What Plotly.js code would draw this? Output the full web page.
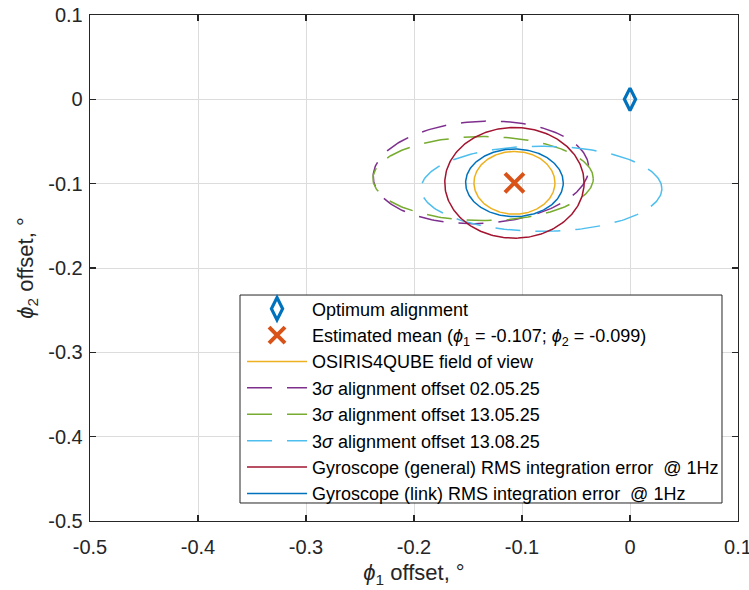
<!DOCTYPE html>
<html>
<head>
<meta charset="utf-8">
<script src="https://cdn.plot.ly/plotly-3.0.1.min.js"></script>
<style>html,body{margin:0;padding:0;background:#fff;}#chart{width:749px;height:590px;}</style>
</head>
<body>
<div id="chart"></div>
<script>
// ---- data ----
const optimumX = [0];
const optimumY = [0];
const meanX = [-0.107];
const meanY = [-0.099];

// ellipses: name, centre x, centre y, semi-axis x, semi-axis y, tilt (rad)
const ellipseNames = [
  'OSIRIS4QUBE field of view',
  '3<i>σ</i> alignment offset 02.05.25',
  '3<i>σ</i> alignment offset 13.05.25',
  '3<i>σ</i> alignment offset 13.08.25',
  'Gyroscope (general) RMS integration error&nbsp; @ 1Hz',
  'Gyroscope (link) RMS integration error&nbsp; @ 1Hz'
];
const ellipseCx = [-0.107, -0.138, -0.136, -0.082, -0.107, -0.107];
const ellipseCy = [-0.099, -0.0866, -0.094, -0.106, -0.099, -0.099];
const ellipseRx = [0.0375, 0.100, 0.102, 0.1115, 0.0645, 0.0452];
const ellipseRy = [0.0372, 0.0605, 0.0498, 0.0505, 0.0656, 0.0401];
const ellipseTilt = [0, 0.08, 0, 0, 0, 0];

const xTickVals = [-0.5, -0.4, -0.3, -0.2, -0.1, 0, 0.1];
const xTickText = ['-0.5', '-0.4', '-0.3', '-0.2', '-0.1', '0', '0.1'];
const yTickVals = [-0.5, -0.4, -0.3, -0.2, -0.1, 0, 0.1];
const yTickText = ['-0.5', '-0.4', '-0.3', '-0.2', '-0.1', '0', '0.1'];

// ---- styles ----
const ellipseColors = ['#EDB120', '#7E2F8E', '#77AC30', '#4DBEEE', '#A2142F', '#0072BD'];
const ellipseDash = ['solid', '25px,15px', '25px,15px', '25px,15px', 'solid', 'solid'];
const legendRanks = [3, 4, 5, 6, 7, 8];
const FONT = 'Liberation Sans, Arial, Helvetica, sans-serif';

function ellipsePoints(cx, cy, rx, ry, th) {
  const xs = [], ys = [];
  const n = 240;
  for (let i = 0; i <= n; i++) {
    const t = 2 * Math.PI * i / n;
    const ex = rx * Math.cos(t), ey = ry * Math.sin(t);
    xs.push(cx + ex * Math.cos(th) - ey * Math.sin(th));
    ys.push(cy + ex * Math.sin(th) + ey * Math.cos(th));
  }
  return {xs, ys};
}

const traces = [];
for (let k = 0; k < ellipseNames.length; k++) {
  const p = ellipsePoints(ellipseCx[k], ellipseCy[k], ellipseRx[k], ellipseRy[k], ellipseTilt[k]);
  traces.push({
    type: 'scatter', mode: 'lines', x: p.xs, y: p.ys, name: ellipseNames[k],
    line: {color: ellipseColors[k], width: 1.5, dash: ellipseDash[k]},
    legendrank: legendRanks[k], hoverinfo: 'skip'
  });
}
traces.push({
  type: 'scatter', mode: 'markers', x: optimumX, y: optimumY, name: 'Optimum alignment',
  marker: {symbol: 'diamond-tall-open', size: 16, color: '#0072BD', line: {width: 3.2, color: '#0072BD'}},
  legendrank: 1
});
traces.push({
  type: 'scatter', mode: 'markers', x: meanX, y: meanY,
  name: 'Estimated mean (<i>ϕ</i><sub>1</sub> = -0.107; <i>ϕ</i><sub>2</sub> = -0.099)',
  marker: {symbol: 'x-thin-open', size: 19, color: '#D95319', line: {width: 4, color: '#D95319'}},
  legendrank: 2
});

const axisCommon = {
  showgrid: true, gridcolor: '#dcdcdc', gridwidth: 1,
  zeroline: false, showline: true, linecolor: '#262626', linewidth: 1.3,
  mirror: 'ticks', ticks: 'inside', ticklen: 6, tickcolor: '#262626', tickwidth: 1.3,
  tickfont: {family: FONT, size: 20, color: '#262626'},
  tickmode: 'array', ticklabeloverflow: 'allow'
};

const layout = {
  width: 749, height: 590,
  margin: {l: 90, r: 11, t: 15, b: 69},
  paper_bgcolor: '#ffffff', plot_bgcolor: '#ffffff',
  showlegend: true,
  xaxis: Object.assign({}, axisCommon, {
    range: [-0.5, 0.1], tickvals: xTickVals, ticktext: xTickText,
    ticklabelstandoff: 8,
    title: {text: '<i>ϕ</i><sub>1</sub> offset, °', standoff: 7,
            font: {family: FONT, size: 22, color: '#262626'}}
  }),
  yaxis: Object.assign({}, axisCommon, {
    range: [-0.5, 0.1], tickvals: yTickVals, ticktext: yTickText,
    ticklabelstandoff: 2,
    title: {text: '<i>ϕ</i><sub>2</sub> offset, °', standoff: 8,
            font: {family: FONT, size: 22, color: '#262626'}}
  }),
  shapes: [{
    type: 'rect', xref: 'paper', yref: 'paper', layer: 'above',
    x0: 0.2315, x1: 0.9753, y0: 0.0356, y1: 0.4466,
    fillcolor: '#ffffff', line: {color: '#262626', width: 1}
  }],
  legend: {
    x: 0.2346, xanchor: 'left', y: 0.4556, yanchor: 'top',
    bgcolor: 'rgba(0,0,0,0)', borderwidth: 0,
    font: {family: FONT, size: 18, color: '#000000'},
    itemwidth: 60, tracegroupgap: 0
  }
};

Plotly.newPlot('chart', traces, layout, {displayModeBar: false, staticPlot: true});
</script>
</body>
</html>
